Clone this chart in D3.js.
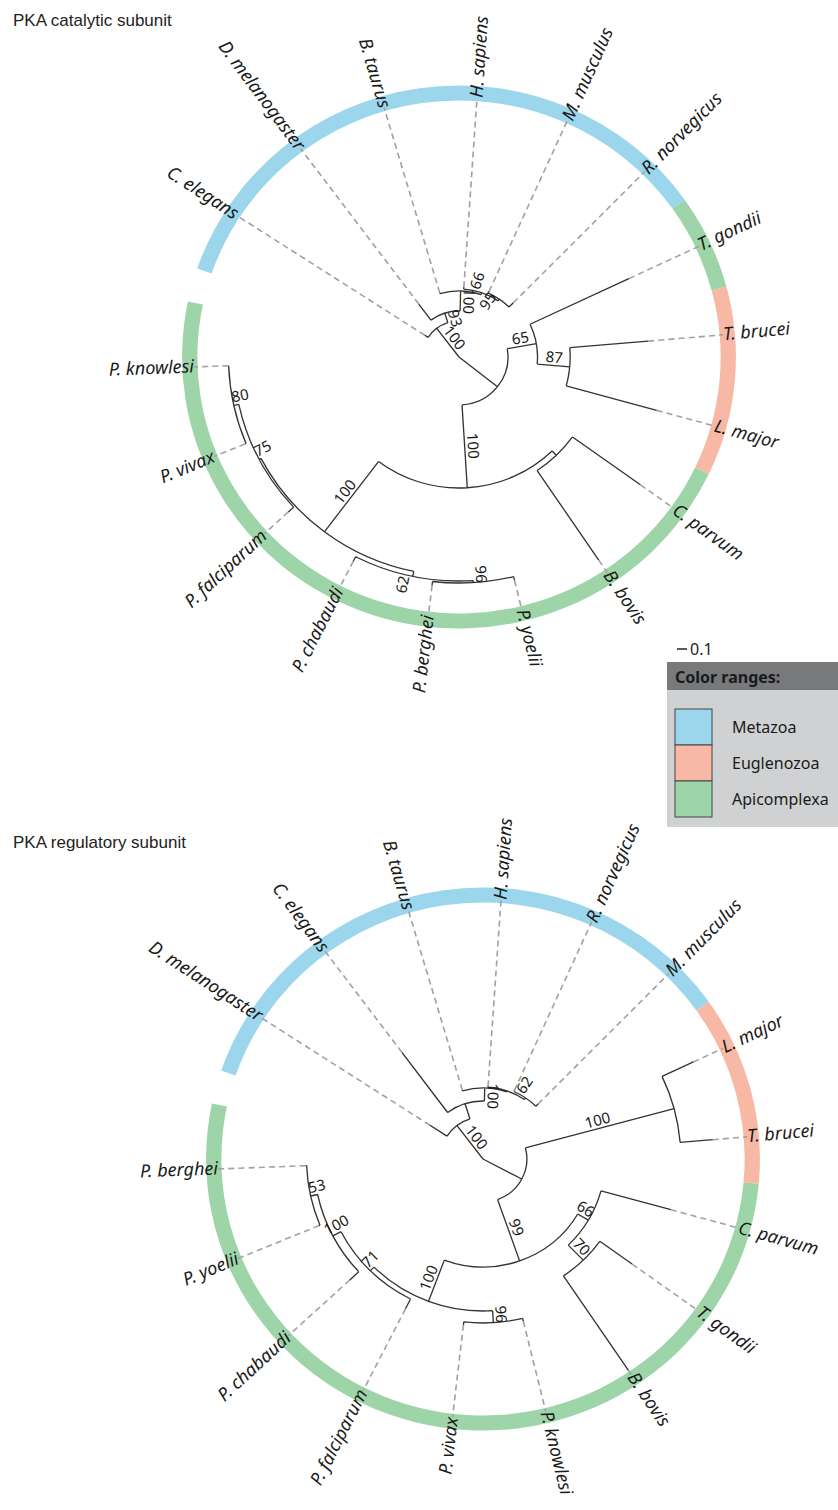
<!DOCTYPE html>
<html>
<head>
<meta charset="utf-8">
<script src="https://cdn.jsdelivr.net/npm/d3@7"></script>
<style>
body { margin: 0; background: #fff; }
svg { display: block; }
</style>
</head>
<body>
<div id="chart"></div>
<script>
// page size
const width = 838, height = 1510;

// trees as newick, branch lengths (scale bar = 0.1), bootstrap as node label
const catalyticNewick = "((C. elegans:0.04,(D. melanogaster:0.20,(B. taurus:0.01,(H. sapiens:0.02,(M. musculus:0.02,R. norvegicus:0.06)95:0.02)66:0.02)100:0.20)93:0.10)100:0.36,((T. gondii:1.07,(T. brucei:0.77,L. major:0.92)87:0.32)65:0.29,((C. parvum:0.82,B. bovis:1.08):0.06,(((P. yoelii:0.04,P. berghei:0.04)96:0.02,P. chabaudi:0.05)62:0.05,(P. falciparum:0.07,(P. vivax:0.01,P. knowlesi:0.0)80:0.05)75:0.02)100:0.88)100:0.83):0.48);";
const regulatoryNewick = "((D. melanogaster:0.20,(C. elegans:0.75,(B. taurus:0.01,(H. sapiens:0.01,(R. norvegicus:0.01,M. musculus:0.03)62:0.02):0.01)100:0.13):0.16)100:0.42,((L. major:0.34,T. brucei:0.32)100:1.51,((C. parvum:0.71,(T. gondii:0.39,B. bovis:1.14)70:0.21)66:0.12,((P. knowlesi:0.03,P. vivax:0.03)96:0.12,(P. falciparum:0.11,(P. chabaudi:0.12,(P. yoelii:0.01,P. berghei:0.01)53:0.07)100:0.09)71:0.05)100:0.44)99:0.65):0.43);";

// colour ranges: group, first leaf, last leaf
const catalyticRanges = [
    ["Metazoa", "C. elegans", "R. norvegicus"],
    ["Apicomplexa", "T. gondii", "T. gondii"],
    ["Euglenozoa", "T. brucei", "L. major"],
    ["Apicomplexa", "C. parvum", "P. knowlesi"]
];
const regulatoryRanges = [
    ["Metazoa", "D. melanogaster", "M. musculus"],
    ["Euglenozoa", "L. major", "T. brucei"],
    ["Apicomplexa", "C. parvum", "P. berghei"]
];

// legend
const groupNames = ["Metazoa", "Euglenozoa", "Apicomplexa"];
const groupColors = ["#9bd6ec", "#f7b9a5", "#9ed5a8"];
const legendTitle = "Color ranges:";
const panelTitles = ["PKA catalytic subunit", "PKA regulatory subunit"];
const scaleBarValue = 0.1;

// layout settings
const firstLeafAngle = 303, leafStep = 20.3, endPad = 14;
const ringR = 264, ringW = 15, kx = 1.02;
const panels = [
    {title: panelTitles[0], newick: catalyticNewick, ranges: catalyticRanges, cx: 459, cy: 357, ty: 26,
     bsOutside: ["66", "62"]},
    {title: panelTitles[1], newick: regulatoryNewick, ranges: regulatoryRanges, cx: 483, cy: 1159, ty: 848,
     bsOutside: ["62"]}
];

const svg = d3.select("#chart").append("svg")
    .attr("width", width).attr("height", height)
    .style("font-family", "'Noto Sans', 'Open Sans', sans-serif");

// branch length -> pixels
const r = d3.scaleLinear().domain([0, 1]).range([0, 100]);
const rad = a => a * Math.PI / 180;
const pt = (a, rr) => [rr * Math.sin(rad(a)), -rr * Math.cos(rad(a))];
const norm = a => ((a % 360) + 360) % 360;

// small newick reader
function parseNewick(s) {
    let i = 0;
    function node() {
        const n = {children: []};
        if (s[i] === "(") {
            i++;
            n.children.push(node());
            while (s[i] === ",") { i++; n.children.push(node()); }
            i++;
        }
        let label = "";
        while (i < s.length && !":,);".includes(s[i])) label += s[i++];
        let num = "";
        if (s[i] === ":") {
            i++;
            while (i < s.length && !",);".includes(s[i])) num += s[i++];
        }
        n.len = num ? +num : 0;
        if (n.children.length) { if (label) n.bs = label; }
        else { n.name = label; delete n.children; }
        return n;
    }
    return node();
}

function drawPanel(p) {
    const root = d3.hierarchy(parseNewick(p.newick));
    root.eachBefore(d => d.dist = (d.parent ? d.parent.dist : 0) + d.data.len);
    const leaves = root.leaves();
    const angle = d3.scaleLinear().domain([0, leaves.length - 1])
        .range([firstLeafAngle, firstLeafAngle + leafStep * (leaves.length - 1)]);
    leaves.forEach((d, i) => d.angle = angle(i));
    root.eachAfter(d => {
        if (d.children) d.angle = (d.children[0].angle + d.children[d.children.length - 1].angle) / 2;
    });
    const idx = {};
    leaves.forEach((d, i) => idx[d.data.name] = i);

    svg.append("text").attr("x", 13).attr("y", p.ty)
        .style("font-family", "'Liberation Sans', Arial, sans-serif")
        .style("font-size", "17px").attr("fill", "#222").text(p.title);

    const g = svg.append("g").attr("transform", "translate(" + p.cx + "," + p.cy + ") scale(" + kx + ",1)");

    // colour ring
    const ring = d3.arc().innerRadius(ringR - ringW / 2).outerRadius(ringR + ringW / 2);
    p.ranges.forEach(rg => {
        const i0 = idx[rg[1]], i1 = idx[rg[2]];
        const a0 = angle(i0) - (i0 === 0 ? endPad : leafStep / 2);
        const a1 = angle(i1) + (i1 === leaves.length - 1 ? endPad : leafStep / 2);
        g.append("path")
            .attr("d", ring({startAngle: rad(a0), endAngle: rad(a1)}))
            .attr("fill", groupColors[groupNames.indexOf(rg[0])]);
    });

    // dashed leaf extensions
    const labR = ringR - 4;
    g.selectAll(".ext").data(leaves).enter().append("path")
        .attr("d", d => { const a = pt(d.angle, r(d.dist)), b = pt(d.angle, labR); return "M" + a + "L" + b; })
        .attr("fill", "none").attr("stroke", "#a2a2a2").attr("stroke-width", 1.6)
        .attr("stroke-dasharray", "6,4");

    // branches: radial part + arc at each inner node
    const path = d3.path();
    root.descendants().forEach(d => {
        if (d.parent) {
            const a = pt(d.angle, r(d.parent.dist)), b = pt(d.angle, r(d.dist));
            path.moveTo(a[0], a[1]); path.lineTo(b[0], b[1]);
        }
        if (d.children && d.dist > 0) {
            const rr = r(d.dist);
            const s = d.children[0].angle, e = d.children[d.children.length - 1].angle;
            const a = pt(s, rr);
            path.moveTo(a[0], a[1]);
            path.arc(0, 0, rr, rad(s - 90), rad(e - 90));
        }
    });
    g.append("path").attr("d", path.toString())
        .attr("fill", "none").attr("stroke", "#333").attr("stroke-width", 1.3);

    // leaf names
    g.selectAll(".leaf").data(leaves).enter().append("text")
        .attr("transform", d => {
            const a = pt(d.angle, labR), t = norm(d.angle);
            const rot = t <= 180 ? t - 90 : t + 90;
            return "translate(" + a + ") scale(" + (1 / kx) + ",1) rotate(" + rot + ")";
        })
        .attr("text-anchor", d => norm(d.angle) <= 180 ? "start" : "end")
        .attr("dy", "0.3em")
        .style("font-size", "18px").style("font-style", "italic").attr("fill", "#1a1a1a")
        .text(d => d.data.name);

    // bootstrap values along the stem branch
    const inner = root.descendants().filter(d => d.parent && d.data.bs);
    g.selectAll(".bs").data(inner).enter().append("text")
        .attr("transform", d => {
            const len = d.dist - d.parent.dist;
            let rr;
            if (p.bsOutside.includes(d.data.bs) && len < 0.16) rr = r(d.dist) + 10;
            else rr = len < 0.16 ? r(d.dist) - 8 : r(d.parent.dist + len / 2);
            const a = pt(d.angle, rr);
            let rot = norm(d.angle) - 90;
            while (rot >= 95) rot -= 180;
            while (rot < -85) rot += 180;
            return "translate(" + a + ") scale(" + (1 / kx) + ",1) rotate(" + rot + ")";
        })
        .attr("text-anchor", "middle").attr("dy", -3)
        .style("font-size", "15px").attr("fill", "#1a1a1a")
        .text(d => d.data.bs);
}

panels.forEach(drawPanel);

// scale bar
const sb = svg.append("g").attr("transform", "translate(677,649)");
sb.append("line").attr("x1", 0).attr("x2", r(scaleBarValue) - r(0))
    .attr("stroke", "#222").attr("stroke-width", 1.5);
sb.append("text").attr("x", r(scaleBarValue) + 3).attr("y", 6)
    .style("font-size", "16px").attr("fill", "#222").text(scaleBarValue);

// legend box
const lg = svg.append("g").attr("transform", "translate(667,662)");
lg.append("rect").attr("width", 171).attr("height", 165).attr("fill", "#cfd1d2");
lg.append("rect").attr("width", 171).attr("height", 28).attr("fill", "#77797b");
lg.append("text").attr("x", 8).attr("y", 21).style("font-size", "16px")
    .style("font-weight", "bold").attr("fill", "#1a1a1a").text(legendTitle);
const sw = d3.scaleBand().domain(groupNames).range([47, 155]);
lg.selectAll(".sw").data(groupNames).enter().append("rect")
    .attr("x", 8).attr("y", d => sw(d)).attr("width", 37).attr("height", sw.bandwidth())
    .attr("fill", (d, i) => groupColors[i]).attr("stroke", "#444").attr("stroke-width", 1);
lg.selectAll(".lab").data(groupNames).enter().append("text")
    .attr("x", 65).attr("y", d => sw(d) + sw.bandwidth() / 2 + 6)
    .style("font-size", "16px").attr("fill", "#1a1a1a").text(d => d);
</script>
</body>
</html>
